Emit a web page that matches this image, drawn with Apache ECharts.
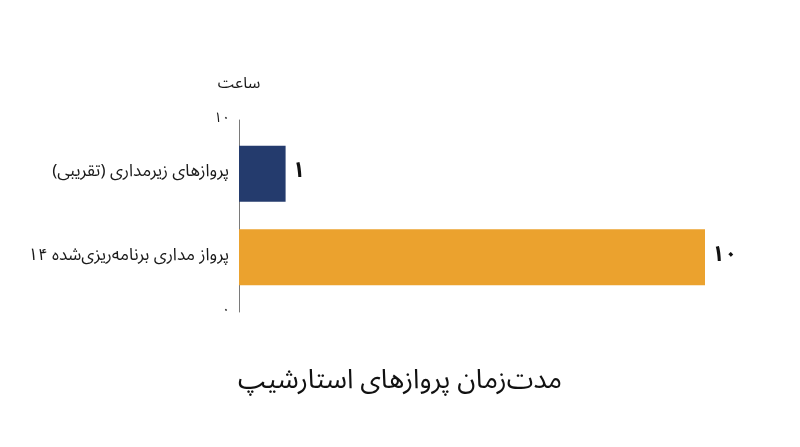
<!DOCTYPE html>
<html>
<head>
<meta charset="utf-8">
<script src="https://cdn.jsdelivr.net/npm/echarts@6/dist/echarts.min.js"></script>
<style>
html,body{margin:0;padding:0;background:#fff;}
#c{width:800px;height:447px;}
</style>
</head>
<body>
<div id="c" dir="rtl"></div>
<script>
const categories = ['پروازهای زیرمداری (تقریبی)', 'پرواز مداری برنامه‌ریزی‌شده ۱۴'];
const values = [1, 10];
const barColors = ['#243B6D', '#EBA22E'];
const valueLabels = ['۱', '۱۰'];
const axisTickLabels = { 0: '۰', 10: '۱۰' };
const axisName = 'ساعت';
const titleText = 'مدت‌زمان پروازهای استارشیپ';

const FONT = '"Noto Sans Arabic","Vazirmatn","DejaVu Sans","Noto Sans",sans-serif';
const chart = echarts.init(document.getElementById('c'));
chart.setOption({
  animation: false,
  textStyle: { fontFamily: FONT },
  title: {
    text: titleText, left: 'center', top: 365,
    textStyle: { fontFamily: FONT, fontSize: 27, fontWeight: 'normal', color: '#111' }
  },
  grid: [
    { left: 239, right: 95, top: 132, bottom: 148 },
    { left: 239, right: 95, top: 120, bottom: 135 }
  ],
  xAxis: [
    { type: 'value', gridIndex: 0, min: 0, max: 10, show: false },
    { type: 'value', gridIndex: 1, min: 0, max: 10, show: false }
  ],
  yAxis: [
    {
      type: 'category', gridIndex: 0, data: categories, inverse: true,
      axisLine: { show: false }, axisTick: { show: false },
      axisLabel: { margin: 10, fontSize: 17, color: '#1a1a1a', fontFamily: FONT }
    },
    {
      type: 'value', gridIndex: 1, min: 0, max: 10, interval: 10,
      name: axisName, nameLocation: 'end', nameGap: 26,
      nameTextStyle: { fontSize: 16, color: '#1a1a1a', fontFamily: FONT, align: 'center' },
      axisLine: { show: true, lineStyle: { color: '#7a7a7a', width: 1 } },
      axisTick: { show: false }, splitLine: { show: false },
      axisLabel: { margin: 9, fontSize: 14, color: '#1a1a1a', fontFamily: FONT,
        formatter: v => axisTickLabels[v] }
    }
  ],
  series: [{
    type: 'bar', xAxisIndex: 0, yAxisIndex: 0, barWidth: 56,
    data: values.map((v, i) => ({ value: v, itemStyle: { color: barColors[i] } })),
    label: {
      show: true, position: 'right', distance: 7, fontSize: 22, fontWeight: 'bold', color: '#111',
      fontFamily: FONT, formatter: p => valueLabels[p.dataIndex]
    }
  }]
});
</script>
</body>
</html>
